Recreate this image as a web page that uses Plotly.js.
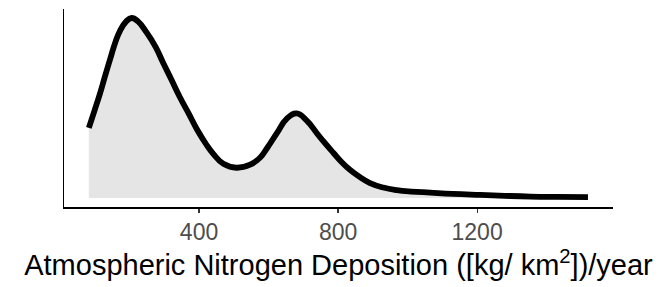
<!DOCTYPE html>
<html>
<head>
<meta charset="utf-8">
<script src="https://cdn.plot.ly/plotly-3.0.1.min.js"></script>
<style>
html,body{margin:0;padding:0;background:#fff;}
#chart{width:665px;height:287px;}
</style>
</head>
<body>
<div id="chart"></div>
<script>
// Nitrogen deposition values (kg/km^2/year) and relative density
const deposition = [83,100,115,130,144,160,173,190,206,225,249,275,297,320,345,370,393,420,441,470,508,547,576,595,624,652,681,710,739,760,787,810,835,860,892,930,969,1010,1065,1130,1209,1280,1353,1430,1519];
const density = [0.39,0.49,0.58,0.68,0.77,0.87,0.93,0.98,1.00,0.98,0.92,0.84,0.75,0.66,0.56,0.47,0.385,0.30,0.245,0.19,0.168,0.185,0.225,0.275,0.36,0.44,0.47,0.43,0.36,0.31,0.25,0.20,0.155,0.12,0.083,0.058,0.044,0.036,0.030,0.023,0.017,0.012,0.008,0.006,0.005];
const tickValues = [400, 800, 1200];
const tickLabels = ['400', '800', '1200'];
const xTitle = 'Atmospheric Nitrogen Deposition ([kg/ km<sup>2</sup>])/year';

const trace = {
  x: deposition,
  y: density,
  type: 'scatter',
  mode: 'lines',
  fill: 'tozeroy',
  fillcolor: '#e5e5e5',
  line: {color: '#000000', width: 5.8, shape: 'spline', smoothing: 1.3},
  hoverinfo: 'skip'
};

const layout = {
  width: 665,
  height: 287,
  margin: {l: 64, r: 52, t: 9, b: 80},
  paper_bgcolor: '#ffffff',
  plot_bgcolor: '#ffffff',
  showlegend: false,
  font: {family: 'Liberation Sans, Arial, sans-serif'},
  xaxis: {
    range: [11.5, 1591],
    tickvals: tickValues,
    ticktext: tickLabels,
    ticks: 'outside',
    ticklen: 4,
    tickwidth: 1.2,
    tickcolor: '#333333',
    showline: true,
    linecolor: '#000000',
    linewidth: 1.5,
    showgrid: false,
    zeroline: false,
    tickfont: {size: 23, color: '#4d4d4d'},
    title: {text: xTitle, font: {size: 29, color: '#000000'}, standoff: 6}
  },
  yaxis: {
    range: [-0.05, 1.05],
    showticklabels: false,
    ticks: '',
    showline: true,
    linecolor: '#000000',
    linewidth: 1.5,
    showgrid: false,
    zeroline: false
  }
};

Plotly.newPlot('chart', [trace], layout, {staticPlot: true, displayModeBar: false});
</script>
</body>
</html>
